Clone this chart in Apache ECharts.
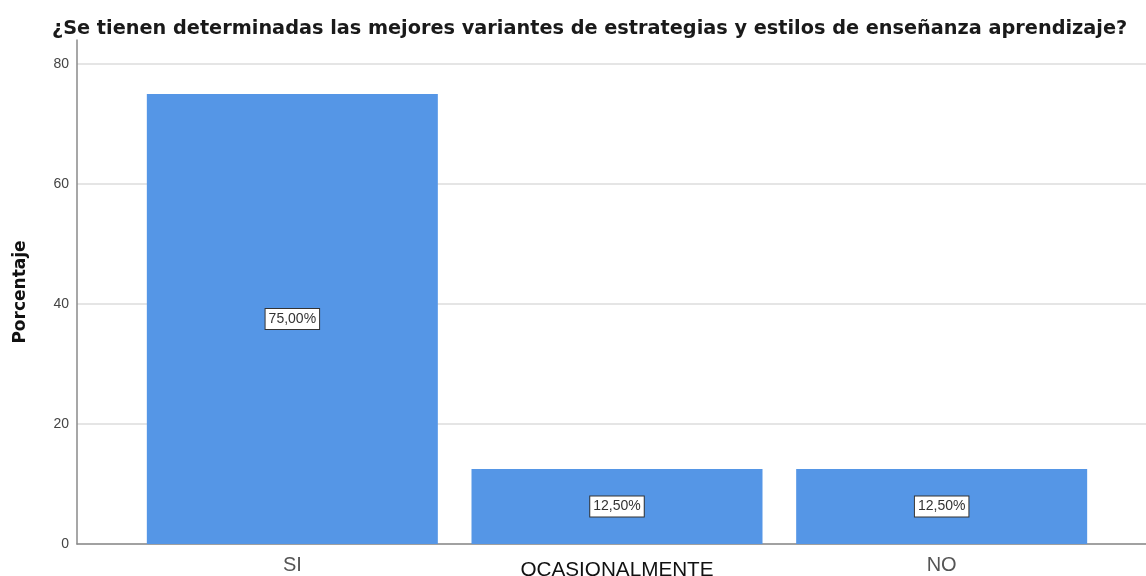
<!DOCTYPE html>
<html>
<head>
<meta charset="utf-8">
<script src="https://cdn.jsdelivr.net/npm/echarts@6/dist/echarts.min.js"></script>
<style>
  html, body { margin: 0; padding: 0; background: #fff; }
  #chart { width: 1146px; height: 576px; }
</style>
</head>
<body>
<div id="chart"></div>
<script>
'use strict';

// datos
var categorias = ['SI', 'OCASIONALMENTE', 'NO'];
var porcentajes = [75, 12.5, 12.5];
var ticksY = [0, 20, 40, 60, 80];

var titulo = '¿Se tienen determinadas las mejores variantes de estrategias y estilos de enseñanza aprendizaje?';
var FONT = '"Liberation Sans", Arial, sans-serif';
var FONT_ANCHA = '"DejaVu Sans", sans-serif';

var chart = echarts.init(document.getElementById('chart'));

var option = {
    animation: false,
    title: {
        text: titulo,
        left: 47,
        top: 14,
        textStyle: {
            fontFamily: FONT_ANCHA,
            fontSize: 19.3,
            fontWeight: 'bold',
            color: '#1a1a1a'
        }
    },
    grid: [
        // marco de ejes
        { left: 77, right: 0, top: 40, bottom: 32, outerBoundsMode: 'none' },
        // lineas de division y etiquetas Y
        { left: 77, right: 0, top: 64, bottom: 32, outerBoundsMode: 'none' },
        // barras
        { left: 130, right: 42, top: 64, bottom: 32, outerBoundsMode: 'none' }
    ],
    xAxis: [{
        gridIndex: 0,
        type: 'value',
        min: 0,
        max: 1,
        axisLine: { show: true, lineStyle: { color: '#8a8a8a', width: 1.5 } },
        axisTick: { show: false },
        axisLabel: { show: false },
        splitLine: { show: false }
    }, {
        gridIndex: 1,
        type: 'value',
        min: 0,
        max: 1,
        show: false
    }, {
        gridIndex: 2,
        type: 'category',
        data: categorias,
        axisLine: { show: false },
        axisTick: { show: false },
        axisLabel: {
            margin: 11,
            fontFamily: FONT,
            fontSize: 20,
            color: '#555',
            formatter: function (v) {
                return v === 'OCASIONALMENTE' ? '{b|' + v + '}' : v;
            },
            rich: {
                b: {
                    fontFamily: FONT,
                    fontSize: 20.7,
                    color: '#111',
                    padding: [5, 0, 0, 0]
                }
            }
        }
    }],
    yAxis: [{
        gridIndex: 0,
        type: 'value',
        min: 0,
        max: 84,
        name: 'Porcentaje',
        nameLocation: 'middle',
        nameGap: 48,
        nameTextStyle: {
            fontFamily: FONT_ANCHA,
            fontSize: 17,
            fontWeight: 'bold',
            color: '#111'
        },
        axisLine: { show: true, lineStyle: { color: '#8a8a8a', width: 1.5 } },
        axisTick: { show: false },
        axisLabel: { show: false },
        splitLine: { show: false }
    }, {
        gridIndex: 1,
        type: 'value',
        min: ticksY[0],
        max: ticksY[ticksY.length - 1],
        interval: 20,
        axisLine: { show: false },
        axisTick: { show: false },
        axisLabel: {
            margin: 8,
            fontFamily: FONT,
            fontSize: 14,
            color: '#444'
        },
        splitLine: { lineStyle: { color: '#dcdcdc', width: 1.5 } }
    }, {
        gridIndex: 2,
        type: 'value',
        min: ticksY[0],
        max: ticksY[ticksY.length - 1],
        show: false
    }],
    series: [{
        name: 'Porcentaje',
        type: 'bar',
        xAxisIndex: 2,
        yAxisIndex: 2,
        barWidth: 291,
        data: porcentajes,
        itemStyle: {
            color: '#5596e6'
        },
        label: {
            show: true,
            position: 'inside',
            fontFamily: FONT,
            fontSize: 14,
            color: '#333',
            backgroundColor: '#fff',
            borderColor: '#333',
            borderWidth: 1,
            padding: [3, 3],
            formatter: function (p) {
                return p.value.toFixed(2).replace('.', ',') + '%';
            }
        }
    }]
};

chart.setOption(option);
</script>
</body>
</html>
